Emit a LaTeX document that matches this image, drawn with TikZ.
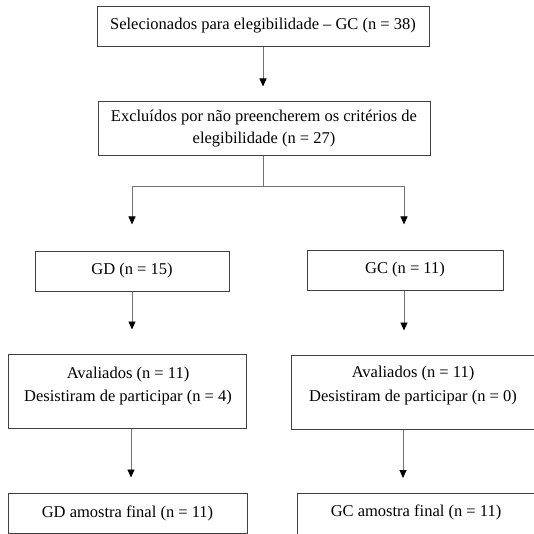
\documentclass[tikz,border=0pt]{standalone}
\usepackage{fontspec}
\setmainfont{Liberation Serif}
\usetikzlibrary{arrows.meta}
\begin{document}
\begin{tikzpicture}[x=1pt,y=-1pt,
  txt/.style={font=\fontsize{16.5}{22}\selectfont,align=center,inner sep=0pt},
  box/.style={txt,draw=black!75,line width=1pt,rectangle},
  conn/.style={draw=black!55,line width=0.9pt,-{Triangle[width=7pt,length=8pt,color=black]}},
  plain/.style={draw=black!55,line width=0.9pt}]
\useasboundingbox (0,0) rectangle (533,534);
\fill[white] (0,0) rectangle (533,534);
\node[box,minimum width=332pt,minimum height=40pt] (b1) at (263,27) {};
\node[txt] (b1t) at (263,25.5) {Selecionados para elegibilidade – GC (n = 38)};
\node[box,minimum width=332pt,minimum height=54pt] (b2) at (264,129) {Excluídos por não preencherem os critérios de\\elegibilidade (n = 27)};
\node[box,minimum width=194pt,minimum height=40pt] (gd) at (132,271) {GD (n = 15)};
\node[box,minimum width=196pt,minimum height=40pt] (gc) at (405,270) {GC (n = 11)};
\node[box,minimum width=238pt,minimum height=74pt] (agd) at (127,391) {};
\node[txt] (agdt) at (128,386) {Avaliados (n = 11)\\[1.5pt]Desistiram de participar (n = 4)};
\node[box,minimum width=250pt,minimum height=74pt] (agc) at (416,392) {};
\node[txt] (agct) at (413,385.5) {Avaliados (n = 11)\\[1.5pt]Desistiram de participar (n = 0)};
\node[box,minimum width=239pt,minimum height=40pt] (fgd) at (127.5,513) {GD amostra final (n = 11)};
\node[box,minimum width=245pt,minimum height=42pt] (fgc) at (419.5,514.5) {};
\node[txt] (fgct) at (416,512) {GC amostra final (n = 11)};
\coordinate (split) at (263,186);
\draw[conn,shorten >=15pt] (b1.south) -- (b1.south |- b2.north);
\draw[plain] (b2.south -| split) -- (split);
\draw[conn,shorten >=26pt] (split) -| (gd.north);
\draw[conn,shorten >=25pt] (split) -| ([xshift=-1pt]gc.north);
\draw[conn,shorten >=24pt] (gd.south) -- (gd.south |- agd.north);
\draw[conn,shorten >=24pt] ([xshift=-1pt]gc.south) -- ([xshift=-1pt]gc.south |- agc.north);
\draw[conn,shorten >=15pt] ([xshift=4pt]agd.south) -- ([xshift=4pt]agd.south |- fgd.north);
\draw[conn,shorten >=15pt] ([xshift=-13pt]agc.south) -- ([xshift=-13pt]agc.south |- fgc.north);
\end{tikzpicture}
\end{document}
